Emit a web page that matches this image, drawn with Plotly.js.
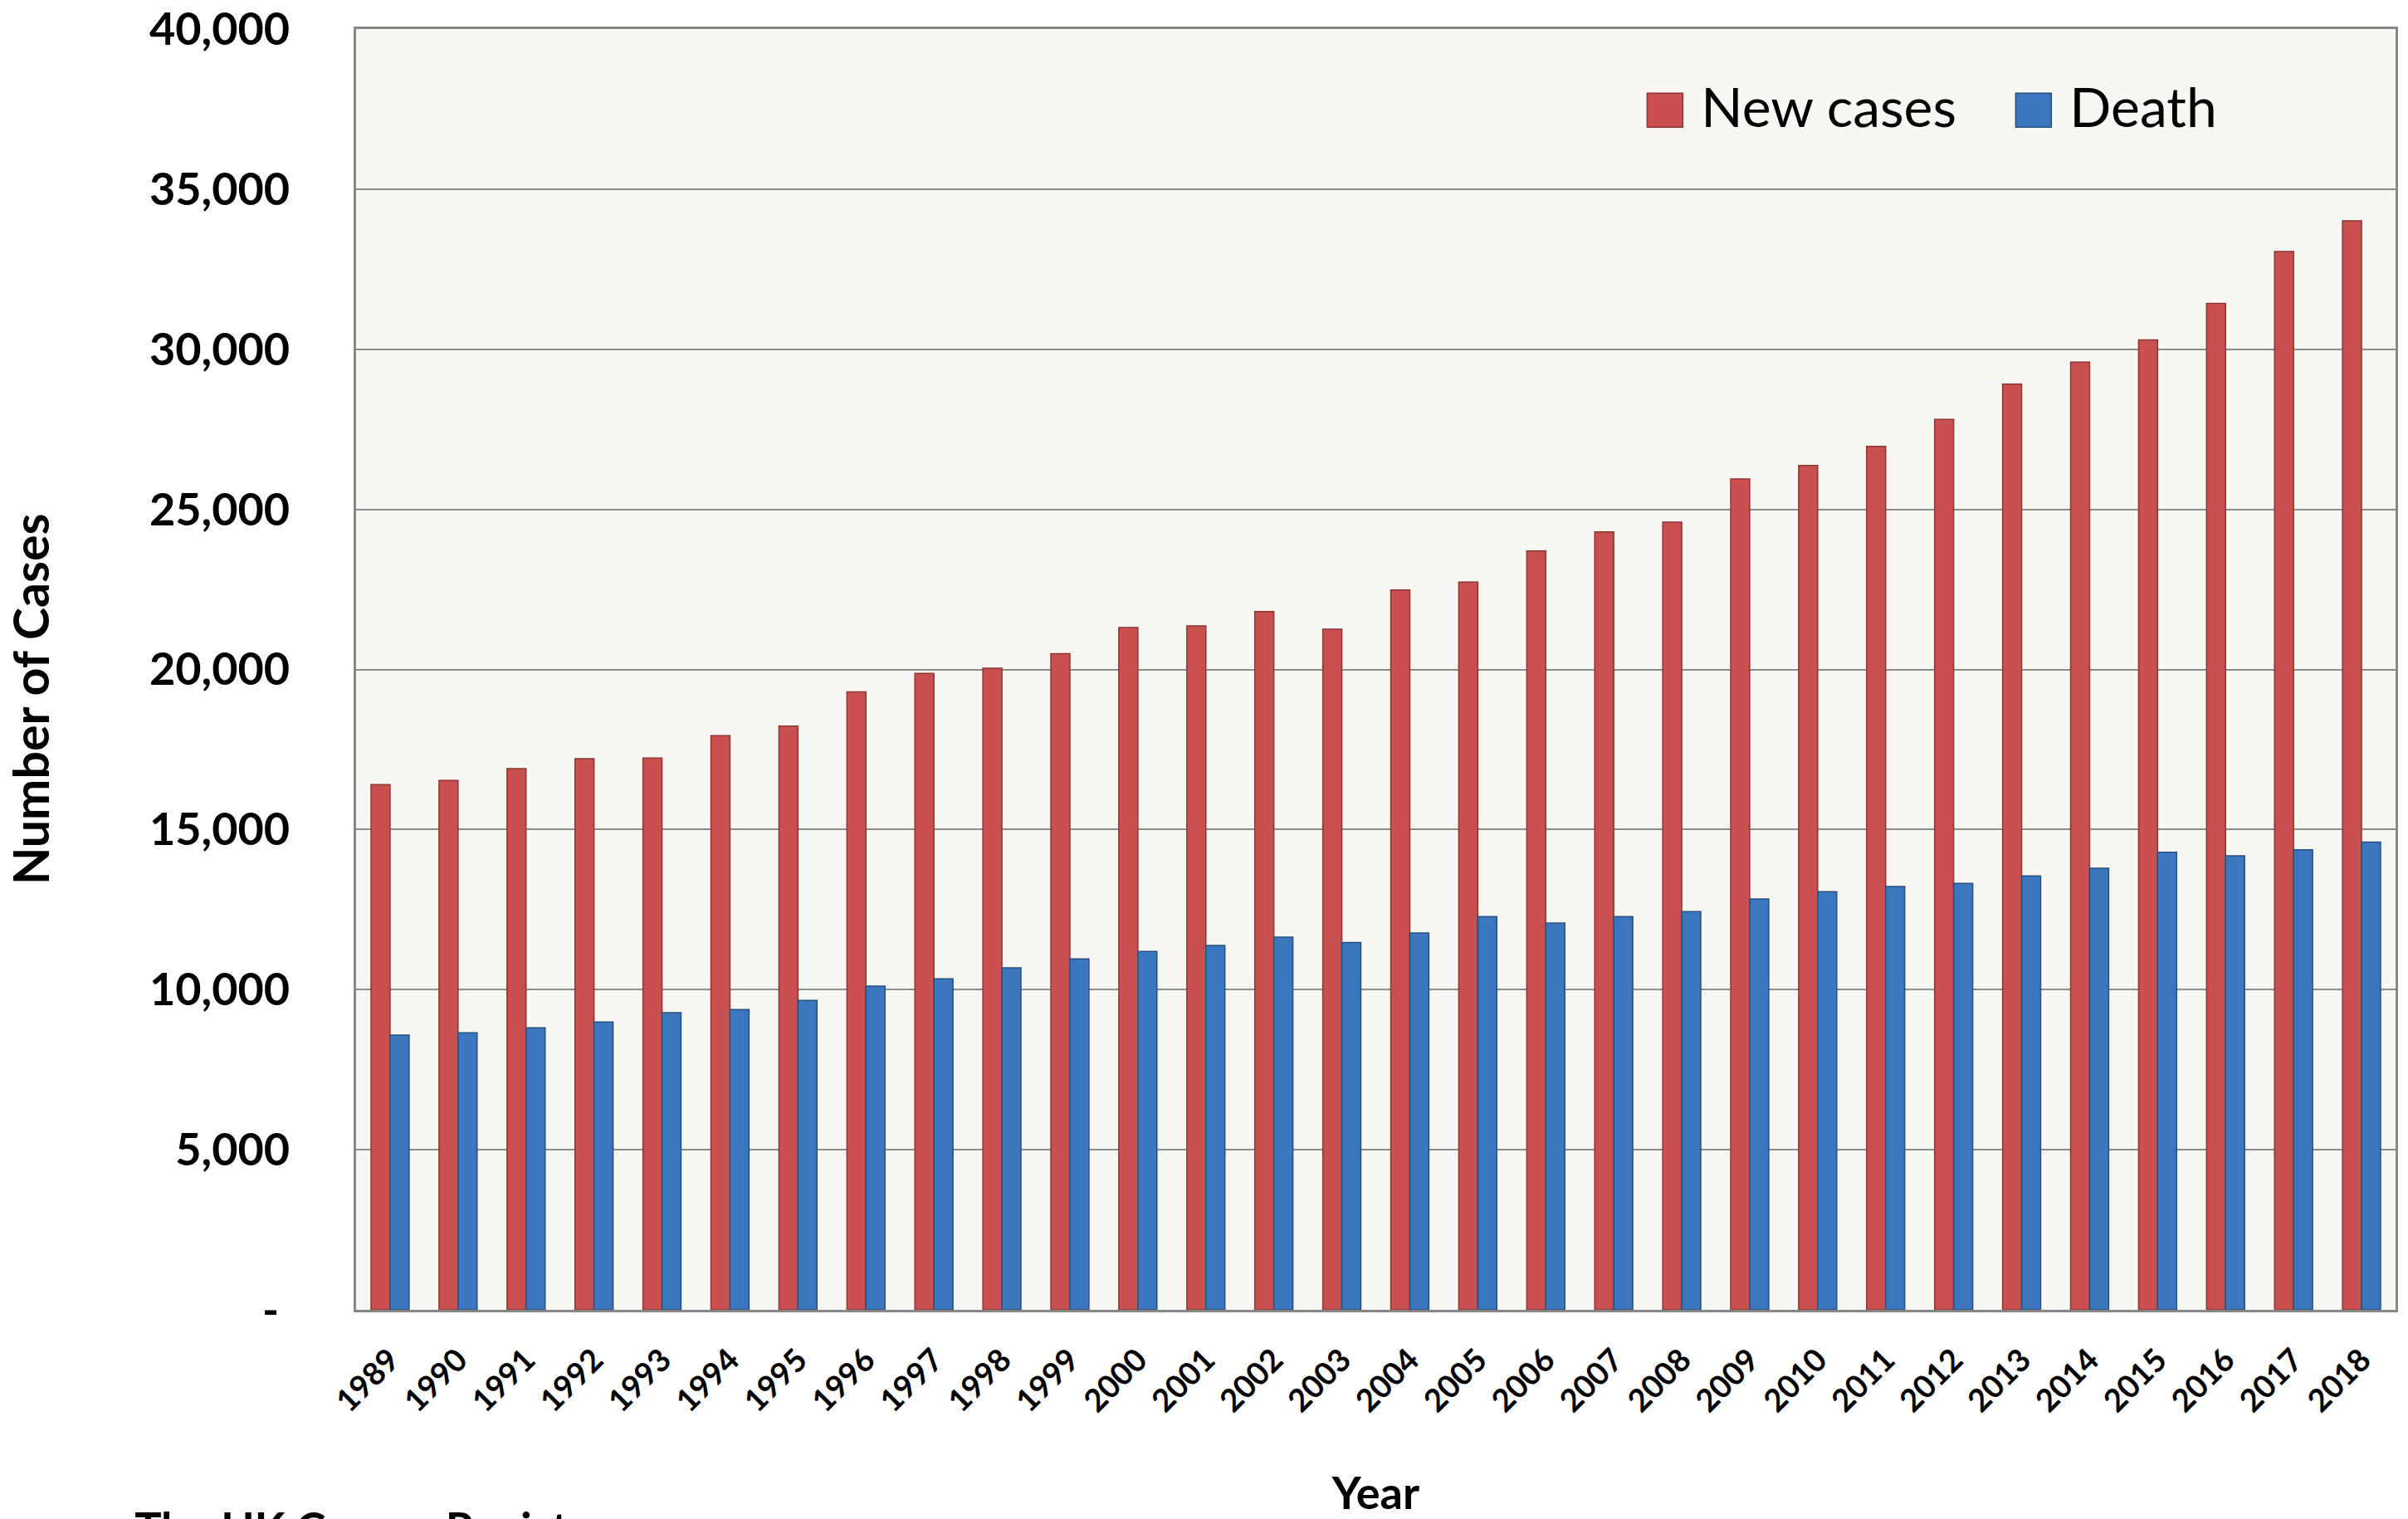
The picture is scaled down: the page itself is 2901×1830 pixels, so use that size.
<!DOCTYPE html>
<html>
<head>
<meta charset="utf-8">
<script src="https://cdn.plot.ly/plotly-3.0.1.min.js"></script>
<style>
  html, body { margin: 0; padding: 0; background: #ffffff; }
  #chart { width: 2901px; height: 1830px; }
</style>
</head>
<body>
<div id="chart"></div>
<script>
// ---- data ----
const years = ["1989","1990","1991","1992","1993","1994","1995","1996","1997","1998",
               "1999","2000","2001","2002","2003","2004","2005","2006","2007","2008",
               "2009","2010","2011","2012","2013","2014","2015","2016","2017","2018"];
const newCases = [16400, 16530, 16900, 17210, 17230, 17930, 18230, 19300, 19880, 20040,
                  20490, 21310, 21360, 21810, 21260, 22480, 22730, 23700, 24300, 24600,
                  25950, 26370, 26970, 27810, 28910, 29600, 30290, 31430, 33050, 34010];
const deaths = [8580, 8650, 8810, 8990, 9280, 9380, 9660, 10110, 10340, 10680,
                10960, 11190, 11380, 11640, 11470, 11770, 12280, 12080, 12280, 12440,
                12830, 13060, 13220, 13320, 13550, 13790, 14290, 14180, 14370, 14610];
const yTickVals = [0, 5000, 10000, 15000, 20000, 25000, 30000, 35000, 40000];
const yTickText = ["-\u00a0", "5,000", "10,000", "15,000", "20,000", "25,000", "30,000", "35,000", "40,000"];
const seriesNames = ["New cases", "Death"];

const FONT = "Lato, 'Open Sans', sans-serif";

const traces = [
  {
    type: "bar", name: seriesNames[0], x: years, y: newCases,
    marker: { color: "#C8504E", line: { color: "#8E3634", width: 1.5 } },
    hoverinfo: "x+y"
  },
  {
    type: "bar", name: seriesNames[1], x: years, y: deaths,
    marker: { color: "#3B76BE", line: { color: "#27507F", width: 1.5 } },
    hoverinfo: "x+y"
  }
];

const layout = {
  width: 2901, height: 1830,
  margin: { l: 429, r: 15, t: 35, b: 252 },
  paper_bgcolor: "#ffffff",
  plot_bgcolor: "#F8F7F3",
  barmode: "group",
  bargap: 0.44,
  bargroupgap: 0,
  showlegend: true,
  legend: {
    orientation: "h",
    x: 0.631, xanchor: "left",
    y: 0.94, yanchor: "middle",
    bgcolor: "rgba(0,0,0,0)",
    font: { family: FONT, size: 66, color: "#000000" },
    itemwidth: 60,
    entrywidth: 369,
    entrywidthmode: "pixels",
    traceorder: "normal"
  },
  xaxis: {
    type: "category",
    tickangle: -45,
    tickfont: { family: FONT, size: 38, color: "#000000", weight: "bold" },
    ticks: "",
    ticklabelstandoff: 20,
    showgrid: false,
    showline: true, linecolor: "#878787", linewidth: 3, mirror: true,
    zeroline: false,
    title: { text: "<b>Year</b>", font: { family: FONT, size: 54, color: "#000000" }, standoff: 80 }
  },
  yaxis: {
    range: [0, 40000],
    tickvals: yTickVals,
    ticktext: yTickText,
    tickfont: { family: FONT, size: 54, color: "#000000", weight: "bold" },
    ticks: "",
    ticklabelstandoff: 66,
    showgrid: true, gridcolor: "#8C8C8C", gridwidth: 2,
    showline: true, linecolor: "#878787", linewidth: 3, mirror: true,
    zeroline: false,
    title: { text: "<b>Number of Cases\u00a0\u00a0\u00a0\u00a0\u00a0</b>", font: { family: FONT, size: 59, color: "#000000" }, standoff: 102 }
  },
  annotations: [
    {
      xref: "paper", yref: "paper",
      x: -0.187, y: -0.148, xanchor: "left", yanchor: "top",
      text: "<b>Source: The UK Cancer Registry</b>",
      showarrow: false,
      font: { family: FONT, size: 54, color: "#000000" }
    }
  ]
};

Plotly.newPlot("chart", traces, layout, { displayModeBar: false, staticPlot: true }).then(function () {
  // draw the legend swatches as the reference's large squares, just left of each label
  const SQ_W = 43, SQ_H = 41, GAP = 22, FS = 66;
  document.querySelectorAll(".legend .traces").forEach(function (item) {
    const txt = item.querySelector("text.legendtext");
    if (!txt) return;
    const tr = txt.getBoundingClientRect();
    const baseline = tr.bottom - 0.213 * FS * (tr.height / (1.2 * FS));
    item.querySelectorAll(".legendpoints path").forEach(function (p) {
      const m = p.getScreenCTM();
      const ox = m.e, oy = m.f;
      const right = tr.left - GAP - ox;
      const left = right - SQ_W;
      const bottom = baseline - oy;
      const top = bottom - SQ_H;
      p.setAttribute("d", "M" + left + "," + bottom + "H" + right + "V" + top + "H" + left + "Z");
    });
  });
});
</script>
</body>
</html>
